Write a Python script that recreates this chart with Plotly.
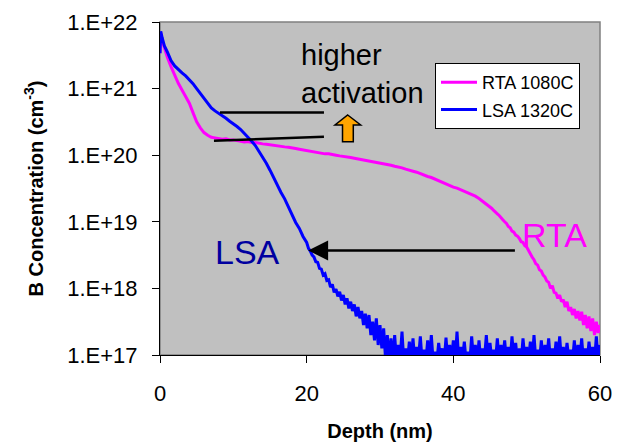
import plotly.graph_objects as go

# ---------------- data ----------------
rta_depth_nm = [
    0, 0.1, 0.3, 0.6, 1.0, 1.5, 2.0, 2.5, 3.0, 3.5, 4.0, 4.5, 5.0, 5.5, 6.0, 6.5, 7.0, 7.5,
    8.0, 8.5, 9.0, 9.5, 10.0, 10.5, 11.0, 11.5, 12.0, 12.5,
    13.0, 13.5, 14.0, 14.5, 15.0, 15.5, 16.0, 16.5, 17.0, 17.5,
    18.0, 18.5, 19.0, 19.5, 20.0, 20.5, 21.0, 21.5, 22.0, 22.5,
    23.0, 23.5, 24.0, 24.5, 25.0, 25.5, 26.0, 26.5, 27.0, 27.5,
    28.0, 28.5, 29.0, 29.5, 30.0, 30.5, 31.0, 31.5, 32.0, 32.5,
    33.0, 33.5, 34.0, 34.5, 35.0, 35.5, 36.0, 36.5, 37.0, 37.5,
    38.0, 38.5, 39.0, 39.5, 40.0, 40.5, 41.0, 41.5, 42.0, 42.5,
    43.0, 43.5,
    44.0, 44.25, 44.5, 44.75, 45.0, 45.25, 45.5, 45.75,
    46.0, 46.25, 46.5, 46.75, 47.0, 47.25, 47.5, 47.75,
    48.0, 48.25, 48.5, 48.75, 49.0, 49.25, 49.5, 49.75,
    50.0, 50.25, 50.5, 50.75, 51.0, 51.25, 51.5, 51.75,
    52.0, 52.25, 52.5, 52.75, 53.0, 53.25, 53.5, 53.75,
    54.0, 54.25, 54.5, 54.75, 55.0, 55.25, 55.5, 55.75,
    56.0, 56.25, 56.5, 56.75, 57.0, 57.25, 57.5, 57.75,
    58.0, 58.25, 58.5, 58.75, 59.0, 59.25, 59.5, 59.75,
    60.0,
]
rta_log10_conc = [
    21.53, 21.84, 21.72, 21.60, 21.47, 21.33, 21.20, 21.08, 20.98, 20.89, 20.78, 20.64,
    20.50, 20.41, 20.34, 20.30, 20.27, 20.26,
    20.25, 20.24, 20.245, 20.23, 20.23, 20.22, 20.215, 20.20, 20.205, 20.19,
    20.19, 20.175, 20.17, 20.165, 20.155, 20.15, 20.14, 20.135, 20.125, 20.12,
    20.105, 20.10, 20.09, 20.08, 20.07, 20.055, 20.05, 20.04, 20.035, 20.02,
    20.02, 20.005, 20.00, 19.99, 19.985, 19.97, 19.965, 19.955, 19.945, 19.935,
    19.93, 19.915, 19.91, 19.895, 19.885, 19.875, 19.86, 19.85, 19.835, 19.825,
    19.81, 19.79, 19.78, 19.76, 19.745, 19.72, 19.70, 19.68, 19.665, 19.64,
    19.62, 19.595, 19.57, 19.55, 19.52, 19.505, 19.48, 19.46, 19.44, 19.41,
    19.385, 19.35,
    19.31, 19.29, 19.27, 19.245, 19.22, 19.20, 19.17, 19.15,
    19.12, 19.095, 19.07, 19.03, 19.00, 18.975, 18.93, 18.91,
    18.86, 18.845, 18.80, 18.785, 18.75, 18.70, 18.69, 18.64,
    18.62, 18.56, 18.52, 18.47, 18.43, 18.37, 18.35, 18.28,
    18.26, 18.20, 18.17, 18.11, 18.09, 18.00, 18.04, 17.94,
    17.93, 17.85, 17.90, 17.80, 17.83, 17.72, 17.80, 17.66,
    17.72, 17.60, 17.69, 17.55, 17.66, 17.52, 17.65, 17.45,
    17.60, 17.40, 17.58, 17.36, 17.55, 17.30, 17.50, 17.33,
    17.45,
]

lsa_depth_nm = [
    0, 0.1, 0.3, 0.6,
    1.0, 1.5, 2.0, 2.5, 3.0, 3.5, 4.0, 4.5, 5.0, 5.5,
    6.0, 6.5, 7.0, 7.5, 8.0, 8.5, 9.0, 9.5, 10.0, 10.5,
    11.0, 11.5, 12.0, 12.5, 13.0, 13.5, 14.0, 14.5, 15.0, 15.5,
    16.0, 16.5, 17.0, 17.5, 18.0, 18.5, 19.0, 19.5, 20.0,
    20.25, 20.5, 20.75, 21.0, 21.25, 21.5, 21.75, 22.0,
    22.25, 22.5, 22.75, 23.0, 23.25, 23.5, 23.75, 24.0,
    24.25, 24.5, 24.75, 25.0, 25.25, 25.5, 25.75, 26.0,
    26.25, 26.5, 26.75, 27.0, 27.25, 27.5, 27.75, 28.0,
    28.25, 28.5, 28.75, 29.0, 29.25, 29.5, 29.75, 30.0,
    30.25, 30.5, 30.75, 31.0, 31.25, 31.5,
    31.75, 32.0, 32.25, 32.5, 32.75, 33.0, 33.25, 33.5, 33.75,
    34.0, 34.25, 34.5, 34.75, 35.0, 35.25, 35.5, 35.75,
    36.0, 36.25, 36.5, 36.75, 37.0, 37.25, 37.5, 37.75,
    38.0, 38.25, 38.5, 38.75, 39.0, 39.25, 39.5, 39.75,
    40.0, 40.25, 40.5, 40.75, 41.0, 41.25, 41.5, 41.75,
    42.0, 42.25, 42.5, 42.75, 43.0, 43.25, 43.5, 43.75,
    44.0, 44.25, 44.5, 44.75, 45.0, 45.25, 45.5, 45.75,
    46.0, 46.25, 46.5, 46.75, 47.0, 47.25, 47.5, 47.75,
    48.0, 48.25, 48.5, 48.75, 49.0, 49.25, 49.5, 49.75,
    50.0, 50.25, 50.5, 50.75, 51.0, 51.25, 51.5, 51.75,
    52.0, 52.25, 52.5, 52.75, 53.0, 53.25, 53.5, 53.75,
    54.0, 54.25, 54.5, 54.75, 55.0, 55.25, 55.5, 55.75,
    56.0, 56.25, 56.5, 56.75, 57.0, 57.25, 57.5, 57.75,
    58.0, 58.25, 58.5, 58.75, 59.0, 59.25, 59.5, 59.75,
    60.0,
]
lsa_log10_conc = [
    21.53, 21.86, 21.76, 21.64,
    21.55, 21.42, 21.34, 21.28, 21.235, 21.19, 21.14, 21.075, 21.00, 20.925,
    20.845, 20.77, 20.71, 20.665, 20.63, 20.59, 20.555, 20.51, 20.475, 20.43,
    20.385, 20.33, 20.275, 20.21, 20.145, 20.06, 19.985, 19.88, 19.775, 19.66,
    19.545, 19.44, 19.345, 19.22, 19.12, 18.99, 18.90, 18.78, 18.69,
    18.60, 18.56, 18.50, 18.47, 18.40, 18.39, 18.30, 18.29,
    18.20, 18.22, 18.12, 18.13, 18.02, 18.06, 17.94, 17.99,
    17.88, 17.95, 17.82, 17.90, 17.76, 17.85, 17.70, 17.80,
    17.66, 17.76, 17.58, 17.72, 17.55, 17.66, 17.45, 17.62,
    17.40, 17.60, 17.30, 17.50, 17.22, 17.55, 17.15, 17.45,
    17.10, 17.40, 16.95, 17.30, 16.90, 17.25,
    16.90, 17.30, 16.90, 17.15, 16.95, 17.35, 16.90, 17.10, 16.90,
    17.20, 16.92, 17.25, 16.90, 17.12, 16.95, 17.28, 16.90,
    17.08, 16.90, 17.22, 16.93, 17.30, 16.90, 17.05, 16.90,
    17.18, 16.95, 17.10, 16.90, 17.26, 16.90, 17.15, 16.92,
    17.22, 16.90, 17.35, 16.90, 17.12, 16.95, 17.20, 16.90,
    17.05, 16.90, 17.28, 16.93, 17.15, 16.90, 17.22, 16.90,
    17.10, 16.95, 17.30, 16.90, 17.18, 16.92, 17.08, 16.90,
    17.25, 16.90, 17.15, 16.95, 17.22, 16.90, 17.12, 16.90,
    17.28, 16.93, 17.18, 16.90, 17.10, 16.90, 17.25, 16.95,
    17.12, 16.90, 17.20, 16.90, 17.30, 16.92, 17.08, 16.90,
    17.22, 16.90, 17.15, 16.95, 17.25, 16.90, 17.10, 16.90,
    17.20, 16.93, 17.28, 16.90, 17.12, 16.90, 17.18, 16.95,
    17.08, 16.90, 17.22, 16.90, 17.15, 16.92, 17.25, 16.90,
    17.10, 16.90, 17.20, 16.95, 17.12, 16.90, 17.28, 16.90,
    17.15,
]

series_names = ["RTA 1080C", "LSA 1320C"]
series_colors = ["#FF00FF", "#0000FF"]

x_tick_vals = [0, 20, 40, 60]
y_tick_vals = [1e17, 1e18, 1e19, 1e20, 1e21, 1e22]
y_tick_text = ["1.E+17", "1.E+18", "1.E+19", "1.E+20", "1.E+21", "1.E+22"]

assert len(rta_depth_nm) == len(rta_log10_conc)
assert len(lsa_depth_nm) == len(lsa_log10_conc)

rta_conc = [10 ** v for v in rta_log10_conc]
lsa_conc = [10 ** v for v in lsa_log10_conc]

FONT = "Arial, 'Liberation Sans', sans-serif"

fig = go.Figure()
fig.add_trace(go.Scatter(x=rta_depth_nm, y=rta_conc, mode="lines", name=series_names[0],
                         legendgroup="rta",
                         line=dict(color=series_colors[0], width=3)))
fig.add_trace(go.Scatter(x=lsa_depth_nm, y=lsa_conc, mode="lines", name=series_names[1],
                         legendgroup="lsa",
                         line=dict(color=series_colors[1], width=3)))

# plot-area border (grey)
fig.add_shape(type="rect", xref="paper", yref="paper", x0=0, x1=1, y0=0, y1=1,
              line=dict(color="#808080", width=1.5), layer="below")

# two black "activation level" lines
fig.add_shape(type="line", xref="x", yref="y domain", x0=8.18, x1=22.36, y0=0.728, y1=0.728,
              line=dict(color="black", width=2.5))
fig.add_shape(type="line", xref="x", yref="y domain", x0=7.36, x1=22.36, y0=0.6435, y1=0.6555,
              line=dict(color="black", width=2.5))

# orange block arrow pointing up
pts = [(0.4266, 0.7207), (0.4561, 0.6907), (0.4393, 0.6907), (0.4393, 0.6406),
       (0.4148, 0.6406), (0.4148, 0.6907), (0.3977, 0.6907)]
path = "M " + " L ".join(f"{a},{b}" for a, b in pts) + " Z"
fig.add_shape(type="path", xref="paper", yref="paper", path=path,
              fillcolor="#FFA500", line=dict(color="black", width=1.5))

# long arrow RTA -> LSA
fig.add_annotation(x=20.2, y=18.57, xref="x", yref="y", ax=48.6, ay=18.57, axref="x", ayref="y",
                   text="", showarrow=True, arrowhead=2, arrowsize=1.6, arrowwidth=2.5,
                   arrowcolor="black")

fig.add_annotation(x=19.0, y=21.78, xref="x", yref="y", xanchor="left", yanchor="top",
                   text="higher<br>activation", showarrow=False, align="left",
                   font=dict(family=FONT, size=29, color="black"))
fig.add_annotation(x=11.9, y=18.55, xref="x", yref="y", xanchor="center", yanchor="middle",
                   text="LSA", showarrow=False, font=dict(family=FONT, size=34, color="#0000A0"))
fig.add_annotation(x=53.8, y=18.80, xref="x", yref="y", xanchor="center", yanchor="middle",
                   text="RTA", showarrow=False, font=dict(family=FONT, size=34, color="#FF00FF"))

fig.update_layout(
    width=618, height=442,
    margin=dict(l=160, r=18, t=22, b=87),
    paper_bgcolor="white", plot_bgcolor="#C0C0C0",
    font=dict(family=FONT, color="black"),
    showlegend=True,
    legend=dict(x=0.625, y=0.877, xanchor="left", yanchor="top",
                bgcolor="white", bordercolor="black", borderwidth=1,
                tracegroupgap=1, itemwidth=36,
                font=dict(family=FONT, size=18, color="black")),
    xaxis=dict(range=[0, 60], tickvals=x_tick_vals, ticks="outside", ticklen=7,
               tickcolor="black", showline=True, linecolor="black", linewidth=1,
               showgrid=False, zeroline=False, tickfont=dict(size=22),
               ticklabelstandoff=12, automargin=False,
               title=dict(text="<b>Depth (nm)</b>", font=dict(size=20), standoff=18)),
    yaxis=dict(type="log", range=[17, 22], tickvals=y_tick_vals, ticktext=y_tick_text,
               ticks="outside", ticklen=7, tickcolor="black", showline=True,
               linecolor="black", linewidth=1, showgrid=False, zeroline=False,
               tickfont=dict(size=22), ticklabelstandoff=10, automargin=False,
               title=dict(text="<b>B Concentration (cm<sup>-3</sup>)</b>",
                          font=dict(size=20), standoff=18)),
)

fig.write_html("out.html", config={"displayModeBar": False},
               post_script="document.body.style.margin='0';")
